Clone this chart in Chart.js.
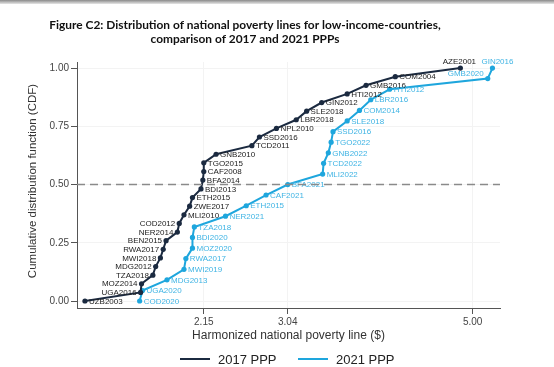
<!DOCTYPE html>
<html>
<head>
<meta charset="utf-8">
<script src="https://cdn.jsdelivr.net/npm/chart.js@4"></script>
<style>
  html, body { margin: 0; padding: 0; background: #fff; }
  #wrap { position: relative; width: 554px; height: 367px; }
  #topbar { position: absolute; left: 0; top: 0; width: 554px; height: 4px;
            background: linear-gradient(#8a8a8a, #e6e6e6); }
</style>
</head>
<body>
<div id="wrap">
  <canvas id="cdfChart" width="554" height="367"></canvas>
  <div id="topbar"></div>
</div>
<script>
// Lineas nacionales de pobreza, PPP 2017 (ordenadas)
const labels2017 = ['UZB2003', 'UGA2016', 'MOZ2014', 'TZA2018', 'MDG2012', 'MWI2018', 'RWA2017',
  'BEN2015', 'NER2014', 'COD2012', 'MLI2010', 'ZWE2017', 'ETH2015', 'BDI2013', 'BFA2014',
  'CAF2008', 'TGO2015', 'GNB2010', 'TCD2011', 'SSD2016', 'NPL2010', 'LBR2018', 'SLE2018',
  'GIN2012', 'HTI2012', 'GMB2016', 'COM2004', 'AZE2001'];
const lines2017 = [0.89, 1.48, 1.49, 1.61, 1.64, 1.69, 1.72, 1.75, 1.87, 1.89, 1.94, 2.00, 2.03,
  2.12, 2.14, 2.15, 2.15, 2.28, 2.66, 2.74, 2.92, 3.13, 3.24, 3.40, 3.67, 3.87, 4.18, 4.87];
const cdf2017 = [0, 0.037, 0.074, 0.111, 0.148, 0.185, 0.222, 0.259, 0.296, 0.333, 0.370, 0.407,
  0.444, 0.481, 0.519, 0.556, 0.593, 0.630, 0.667, 0.704, 0.741, 0.778, 0.815, 0.852, 0.889,
  0.926, 0.963, 1.0];

// Lineas nacionales de pobreza, PPP 2021 (ordenadas)
const labels2021 = ['COD2020', 'UGA2020', 'MDG2013', 'MWI2019', 'RWA2017', 'MOZ2020', 'BDI2020',
  'TZA2018', 'NER2021', 'ETH2015', 'CAF2021', 'BFA2021', 'MLI2022', 'TCD2022', 'GNB2022',
  'TGO2022', 'SSD2016', 'SLE2018', 'COM2014', 'LBR2016', 'HTI2012', 'GMB2020', 'GIN2016'];
const lines2021 = [1.47, 1.50, 1.76, 1.94, 1.96, 2.03, 2.03, 2.05, 2.38, 2.60, 2.81, 3.04, 3.41,
  3.42, 3.47, 3.50, 3.52, 3.67, 3.80, 3.92, 4.12, 5.16, 5.21];
const cdf2021 = [0, 0.045, 0.091, 0.136, 0.182, 0.227, 0.273, 0.318, 0.364, 0.409, 0.455, 0.5,
  0.545, 0.591, 0.636, 0.682, 0.727, 0.773, 0.818, 0.864, 0.909, 0.955, 1.0];

const xTicks = [2.15, 3.04, 5.00];
const yTicks = [0, 0.25, 0.5, 0.75, 1];
const medianLine = 0.5;

// Posicion de las etiquetas (r = derecha, l = izquierda, a = arriba)
const pos2017 = ['r', 'l', 'l', 'l', 'l', 'l', 'l', 'l', 'l', 'l', 'r', 'r', 'r', 'r', 'r', 'r',
  'r', 'r', 'r', 'r', 'r', 'r', 'r', 'r', 'r', 'r', 'r', 'a'];
const pos2021 = ['r', 'r', 'r', 'r', 'r', 'r', 'r', 'r', 'r', 'r', 'r', 'r', 'r', 'r', 'r', 'r',
  'r', 'r', 'r', 'r', 'r', 'la', 'a'];

const darkColor = '#1b2a40';
const lightColor = '#1ea6dd';

const toPoints = (xs, ys) => xs.map((v, i) => ({ x: v, y: ys[i] }));

// Etiquetas de puntos, linea discontinua y textos del grafico
const annotate = {
  id: 'annotate',
  afterDatasetsDraw(chart) {
    const ctx = chart.ctx;
    const area = chart.chartArea;
    const sets = [
      { names: labels2017, pos: pos2017, color: '#222' },
      { names: labels2021, pos: pos2021, color: '#3fb4e4' }
    ];
    ctx.save();
    ctx.font = '8px "Liberation Sans", Arial, sans-serif';
    ctx.textBaseline = 'middle';
    sets.forEach((s, d) => {
      const meta = chart.getDatasetMeta(d);
      ctx.fillStyle = s.color;
      meta.data.forEach((pt, i) => {
        const p = s.pos[i];
        if (p === 'r') {
          ctx.textAlign = 'left';
          ctx.fillText(s.names[i], pt.x + 4, pt.y + 0.5);
        } else if (p === 'l') {
          ctx.textAlign = 'right';
          ctx.fillText(s.names[i], pt.x - 4, pt.y + 0.5);
        } else if (p === 'la') {
          ctx.textAlign = 'right';
          ctx.fillText(s.names[i], pt.x - 4, pt.y - 5);
        } else {
          ctx.textAlign = 'center';
          ctx.fillText(s.names[i], pt.x + (d === 1 ? 5 : -1), pt.y - 6);
        }
      });
    });

    // Linea discontinua en 0.5
    const yMid = chart.scales.y.getPixelForValue(medianLine);
    ctx.strokeStyle = '#8a8a8a';
    ctx.lineWidth = 1.5;
    ctx.setLineDash([8, 5]);
    ctx.beginPath();
    ctx.moveTo(area.left, yMid);
    ctx.lineTo(area.right, yMid);
    ctx.stroke();
    ctx.setLineDash([]);

    // Titulo
    ctx.fillStyle = '#111';
    ctx.textAlign = 'center';
    ctx.textBaseline = 'middle';
    const t1 = 'Figure C2: Distribution of national poverty lines for low-income-countries,';
    const t2 = 'comparison of 2017 and 2021 PPPs';
    ctx.font = 'bold 12px Lato, sans-serif';
    const fs = 12 * 392 / ctx.measureText(t1).width;
    ctx.font = 'bold ' + fs.toFixed(2) + 'px Lato, sans-serif';
    ctx.fillText(t1, 245, 25);
    ctx.fillText(t2, 245, 39);

    // Titulos de ejes
    ctx.fillStyle = '#333';
    ctx.font = '12px "Liberation Sans", Arial, sans-serif';
    ctx.fillText('Harmonized national poverty line ($)', (area.left + area.right) / 2, 336);
    ctx.save();
    ctx.translate(33, 181);
    ctx.rotate(-Math.PI / 2);
    ctx.font = '11.5px "Liberation Sans", Arial, sans-serif';
    ctx.fillText('Cumulative distribution function (CDF)', 0, 0);
    ctx.restore();

    // Leyenda
    ctx.lineWidth = 2;
    ctx.font = '13px "Liberation Sans", Arial, sans-serif';
    ctx.textAlign = 'left';
    ctx.strokeStyle = darkColor;
    ctx.beginPath(); ctx.moveTo(180, 359); ctx.lineTo(210, 359); ctx.stroke();
    ctx.fillStyle = '#222';
    ctx.fillText('2017 PPP', 218, 360);
    ctx.strokeStyle = lightColor;
    ctx.beginPath(); ctx.moveTo(298, 359); ctx.lineTo(328, 359); ctx.stroke();
    ctx.fillText('2021 PPP', 336, 360);
    ctx.restore();
  }
};

new Chart(document.getElementById('cdfChart').getContext('2d'), {
  type: 'line',
  data: {
    datasets: [
      {
        label: '2017 PPP',
        data: toPoints(lines2017, cdf2017),
        borderColor: darkColor,
        backgroundColor: darkColor,
        borderWidth: 2,
        pointRadius: 2.6,
        pointBorderWidth: 0,
        tension: 0
      },
      {
        label: '2021 PPP',
        data: toPoints(lines2021, cdf2021),
        borderColor: lightColor,
        backgroundColor: lightColor,
        borderWidth: 2,
        pointRadius: 2.6,
        pointBorderWidth: 0,
        tension: 0
      }
    ]
  },
  options: {
    responsive: false,
    animation: false,
    layout: { padding: { left: 0, top: 62, right: 54, bottom: 0 } },
    plugins: {
      legend: { display: false },
      title: { display: false },
      tooltip: { enabled: false }
    },
    scales: {
      x: {
        type: 'linear',
        min: 0.806,
        max: 5.29,
        afterBuildTicks: scale => { scale.ticks = xTicks.map(v => ({ value: v })); },
        afterFit: scale => { scale.height = 59; },
        ticks: {
          callback: v => v.toFixed(2),
          color: '#444',
          font: { size: 10, family: '"Liberation Sans", Arial, sans-serif' },
          padding: 2,
          maxRotation: 0
        },
        grid: { color: '#f3f3f3', tickColor: '#555', tickLength: 6 },
        border: { color: '#555', width: 1 }
      },
      y: {
        type: 'linear',
        min: -0.03,
        max: 1.026,
        afterBuildTicks: scale => { scale.ticks = yTicks.map(v => ({ value: v })); },
        afterFit: scale => { scale.width = 77; },
        ticks: {
          callback: v => v.toFixed(2),
          color: '#444',
          font: { size: 10, family: '"Liberation Sans", Arial, sans-serif' },
          padding: 2
        },
        grid: { color: '#f3f3f3', tickColor: '#555', tickLength: 6 },
        border: { color: '#555', width: 1 }
      }
    }
  },
  plugins: [annotate]
});
</script>
</body>
</html>
